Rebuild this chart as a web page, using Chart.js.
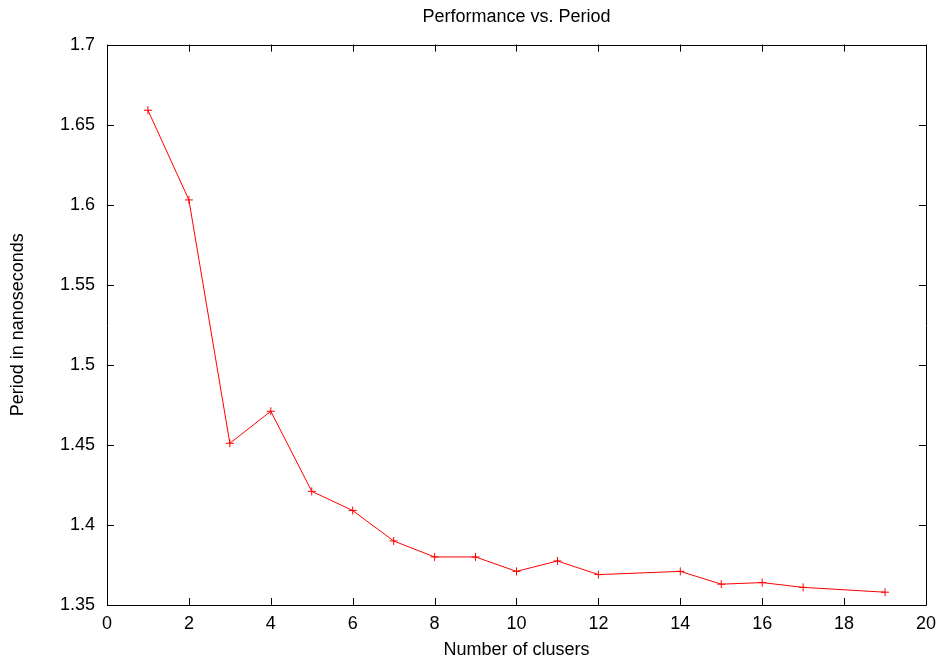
<!DOCTYPE html>
<html>
<head>
<meta charset="utf-8">
<script src="https://cdn.jsdelivr.net/npm/chart.js@4/dist/chart.umd.min.js"></script>
<style>
  html, body { margin: 0; padding: 0; background: #fff; }
</style>
</head>
<body>
<canvas id="chart" width="944" height="664"></canvas>
<script>
// データ
const clusters = [1, 2, 3, 4, 5, 6, 7, 8, 9, 10, 11, 12, 14, 15, 16, 17, 19];
const periods = [1.659, 1.603, 1.451, 1.471, 1.421, 1.409, 1.390, 1.380, 1.380, 1.371, 1.3775, 1.369, 1.371, 1.363, 1.364, 1.361, 1.358];

const FONT = 'Liberation Sans, Arial, sans-serif';
const FONT_SIZE = 18;
const TICK_LEN = 7;

// 枠線と内向きの目盛り（gnuplot風）
const frameTicks = {
    id: 'frameTicks',
    afterDraw(chart) {
        const ctx = chart.ctx;
        const a = chart.chartArea;
        const xs = chart.scales.x;
        const ys = chart.scales.y;
        ctx.save();
        ctx.strokeStyle = '#000';
        ctx.lineWidth = 1;
        ctx.beginPath();
        ctx.rect(Math.round(a.left) + 0.5, Math.round(a.top) + 0.5, Math.round(a.right - a.left), Math.round(a.bottom - a.top));
        xs.ticks.forEach(t => {
            const px = Math.round(xs.getPixelForValue(t.value)) + 0.5;
            ctx.moveTo(px, a.bottom);
            ctx.lineTo(px, a.bottom - TICK_LEN);
            ctx.moveTo(px, a.top);
            ctx.lineTo(px, a.top + TICK_LEN);
        });
        ys.ticks.forEach(t => {
            const py = Math.round(ys.getPixelForValue(t.value)) + 0.5;
            ctx.moveTo(a.left, py);
            ctx.lineTo(a.left + TICK_LEN, py);
            ctx.moveTo(a.right, py);
            ctx.lineTo(a.right - TICK_LEN, py);
        });
        ctx.stroke();
        ctx.restore();
    }
};

new Chart(document.getElementById('chart'), {
    type: 'line',
    data: {
        datasets: [{
            data: clusters.map((c, i) => ({ x: c, y: periods[i] })),
            borderColor: '#ff0000',
            borderWidth: 1,
            pointStyle: 'cross',
            pointRadius: 4,
            pointBorderColor: '#ff0000',
            pointBorderWidth: 1,
            tension: 0,
            fill: false
        }]
    },
    options: {
        responsive: false,
        animation: false,
        layout: { padding: { left: 0, right: 15, top: 0, bottom: 0 } },
        plugins: {
            legend: { display: false },
            tooltip: { enabled: false },
            title: {
                display: true,
                fullSize: false, // プロット領域の中央に配置
                text: 'Performance vs. Period',
                color: '#000',
                font: { family: FONT, size: FONT_SIZE, weight: 'normal' },
                padding: { top: 6, bottom: 17 }
            }
        },
        scales: {
            x: {
                type: 'linear',
                min: 0, max: 20,
                afterFit: s => { s.height = 59; },
                grid: { display: false, drawTicks: false },
                border: { display: false },
                ticks: { stepSize: 2, color: '#000', padding: 8, maxRotation: 0, font: { family: FONT, size: FONT_SIZE } },
                title: { display: true, text: 'Number of clusers', color: '#000', padding: { top: 3, bottom: 3 }, font: { family: FONT, size: FONT_SIZE } }
            },
            y: {
                min: 1.35, max: 1.7,
                afterFit: s => { s.width = 107; },
                grid: { display: false, drawTicks: false },
                border: { display: false },
                ticks: {
                    stepSize: 0.05, color: '#000', padding: 12,
                    font: { family: FONT, size: FONT_SIZE },
                    callback: v => String(Number(v.toFixed(2)))
                },
                title: { display: true, text: 'Period in nanoseconds', color: '#000', padding: { top: 7, bottom: 3 }, font: { family: FONT, size: FONT_SIZE } }
            }
        }
    },
    plugins: [frameTicks]
});
</script>
</body>
</html>
